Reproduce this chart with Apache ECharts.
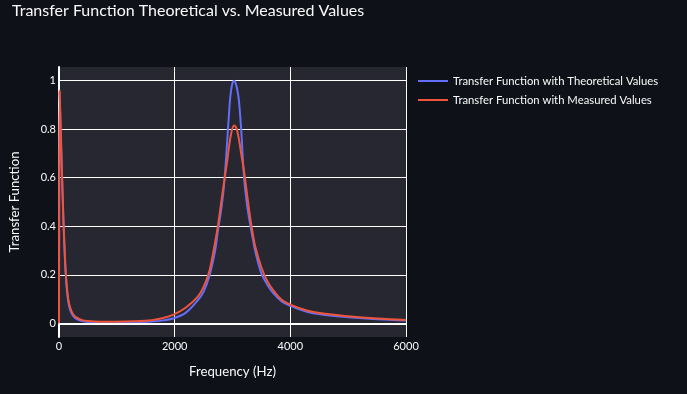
<!DOCTYPE html>
<html>
<head>
<meta charset="utf-8">
<script src="https://cdn.jsdelivr.net/npm/echarts@6/dist/echarts.min.js"></script>
<style>
html,body{margin:0;padding:0;background:#0e1117;}
#chart{width:687px;height:394px;}
</style>
</head>
<body>
<div id="chart"></div>
<script>
// Frequency samples (Hz)
const freq = [0, 10, 20, 35, 50, 70, 90, 120, 160, 200, 250, 300, 400, 500, 700, 1000, 1300, 1600, 1800, 2000, 2200, 2400, 2500, 2600, 2700, 2750, 2800, 2850, 2900, 2950, 2975, 3000, 3030, 3060, 3085, 3110, 3150, 3200, 3250, 3300, 3350, 3400, 3500, 3600, 3700, 3850, 4000, 4300, 4600, 5000, 5500, 6000];
// Transfer function with theoretical values
const theoretical = [0, 0.95, 0.875, 0.755, 0.635, 0.475, 0.335, 0.185, 0.088, 0.05, 0.028, 0.018, 0.009, 0.005, 0.003, 0.003, 0.004, 0.007, 0.012, 0.022, 0.045, 0.095, 0.13, 0.195, 0.30, 0.385, 0.46, 0.56, 0.72, 0.90, 0.96, 0.99, 1.0, 0.985, 0.96, 0.92, 0.80, 0.60, 0.49, 0.415, 0.35, 0.29, 0.205, 0.16, 0.125, 0.09, 0.072, 0.046, 0.034, 0.025, 0.017, 0.012];
// Transfer function with measured values
const measured = [0, 0.96, 0.88, 0.745, 0.62, 0.47, 0.345, 0.20, 0.10, 0.06, 0.035, 0.024, 0.013, 0.009, 0.006, 0.006, 0.008, 0.013, 0.022, 0.038, 0.066, 0.11, 0.15, 0.215, 0.335, 0.405, 0.49, 0.575, 0.655, 0.745, 0.78, 0.805, 0.815, 0.808, 0.79, 0.76, 0.70, 0.625, 0.535, 0.445, 0.37, 0.31, 0.23, 0.175, 0.138, 0.097, 0.077, 0.052, 0.039, 0.029, 0.02, 0.014];
const yTicks = [0, 0.2, 0.4, 0.6, 0.8, 1];
const xTicks = [0, 2000, 4000, 6000];
const seriesNames = ['Transfer Function with Theoretical Values', 'Transfer Function with Measured Values'];
const titleText = 'Transfer Function Theoretical vs. Measured Values';

const FONT = 'Lato';
const TXT = '#fafafa';
const chart = echarts.init(document.getElementById('chart'));
const pairs = (vals) => freq.map((f, i) => [f, vals[i]]);

chart.setOption({
  backgroundColor: '#0e1117',
  animation: false,
  title: {
    text: titleText, left: 12, top: 3, padding: 0,
    textStyle: {color: TXT, fontFamily: FONT, fontSize: 16, fontWeight: 'normal'}
  },
  legend: {
    data: seriesNames, orient: 'vertical', left: 418, top: 74, padding: 0,
    icon: 'rect', itemWidth: 30, itemHeight: 2, itemGap: 5,
    textStyle: {color: TXT, fontFamily: FONT, fontSize: 11.3, lineHeight: 14}
  },
  grid: {left: 57, right: 281, top: 67, bottom: 57, show: true, backgroundColor: '#262730', borderWidth: 0, containLabel: false},
  xAxis: {
    type: 'value', min: 0, max: 6000, interval: 2000,
    name: 'Frequency (Hz)', nameLocation: 'middle', nameGap: 28,
    nameTextStyle: {color: TXT, fontFamily: FONT, fontSize: 13.2},
    axisLine: {show: false}, axisTick: {show: false},
    axisLabel: {color: TXT, fontFamily: FONT, fontSize: 11, margin: 4, formatter: (v) => String(v)},
    splitLine: {show: true, lineStyle: {color: '#ffffff', width: 1}}
  },
  yAxis: {
    type: 'value', min: -0.0565, max: 1.0565,
    name: 'Transfer Function', nameLocation: 'middle', nameGap: 38,
    nameTextStyle: {color: TXT, fontFamily: FONT, fontSize: 13.2},
    axisLine: {show: true, onZero: true, lineStyle: {color: '#ffffff', width: 2}},
    axisTick: {show: false, customValues: yTicks},
    axisLabel: {color: TXT, fontFamily: FONT, fontSize: 11, margin: 3, customValues: yTicks, formatter: (v) => String(v)},
    splitLine: {show: true, lineStyle: {color: '#ffffff', width: 1}}
  },
  series: [
    {
      name: '_zero', type: 'line', data: [], z: 1, silent: true,
      markLine: {silent: true, symbol: 'none', label: {show: false}, animation: false,
        lineStyle: {color: '#ffffff', width: 2, type: 'solid'},
        data: [{yAxis: 0}]}
    },
    {
      name: seriesNames[0], type: 'line', data: pairs(theoretical), z: 3,
      symbol: 'none', smooth: 0.35,
      lineStyle: {color: '#636efa', width: 2}, itemStyle: {color: '#636efa'}
    },
    {
      name: seriesNames[1], type: 'line', data: pairs(measured), z: 4,
      symbol: 'none', smooth: 0.35,
      lineStyle: {color: '#ef553b', width: 2}, itemStyle: {color: '#ef553b'}
    }
  ]
});
</script>
</body>
</html>
